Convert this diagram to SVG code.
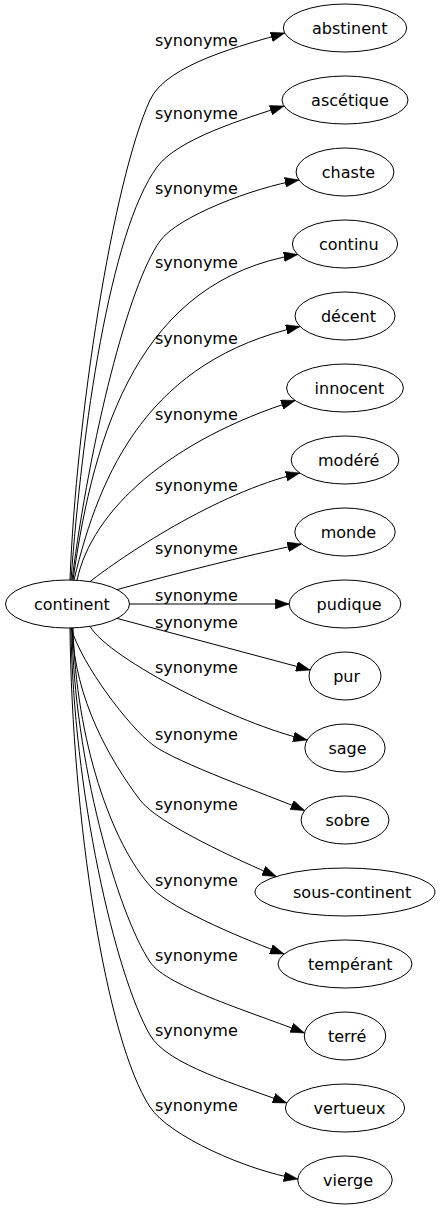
<svg xmlns="http://www.w3.org/2000/svg" width="440" height="1211" viewBox="0 0 440 1211">
<style>
  text { font-family: "DejaVu Sans", Verdana, sans-serif; font-size: 16px; fill: #000; }
  .node ellipse { fill: none; stroke: #000; stroke-width: 1; }
  .edge path { fill: none; stroke: #000; stroke-width: 1; marker-end: url(#arr); }
</style>
<defs>
  <marker id="arr" markerUnits="userSpaceOnUse" markerWidth="14" markerHeight="10" viewBox="0 0 13.3 9.4" refX="13.3" refY="4.7" orient="auto">
    <path d="M0,0 L13.3,4.7 L0,9.4 z" fill="#000" stroke="#000" stroke-width="0.5"/>
  </marker>
</defs>
<rect width="440" height="1211" fill="#fff"/>
<g id="edges">
  <g class="edge" id="e1"><path d="M70,580 C76,420 112.6,181.9 150,100 C166.6,63.6 245.7,44.6 284.7,33"/><text x="155" y="46">synonyme</text></g>
  <g class="edge" id="e2"><path d="M71,580 C82,430 109.8,231.6 157,167 C177.7,138.8 245.5,118.4 284,106"/><text x="155" y="119">synonyme</text></g>
  <g class="edge" id="e3"><path d="M72,580 C90,440 128,285.8 160,241 C177.4,216.6 253.2,187.7 298.9,180"/><text x="155" y="194">synonyme</text></g>
  <g class="edge" id="e4"><path d="M73,580 C94,430 140,280 297.7,254.5"/><text x="155" y="268">synonyme</text></g>
  <g class="edge" id="e5"><path d="M74,580 C100,470 150,360 300,326.5"/><text x="155" y="344">synonyme</text></g>
  <g class="edge" id="e6"><path d="M77,580.3 C92,510 170,440 295.1,400.5"/><text x="155" y="420">synonyme</text></g>
  <g class="edge" id="e7"><path d="M90,581.6 C120,558 215,493 299.8,473"/><text x="155" y="491">synonyme</text></g>
  <g class="edge" id="e8"><path d="M117,589.6 C178,573 240,557 301.5,544"/><text x="155" y="554">synonyme</text></g>
  <g class="edge" id="e9"><path d="M129.5,604 L289.2,604"/><text x="155" y="601">synonyme</text></g>
  <g class="edge" id="e10"><path d="M117,618.4 L310.1,670"/><text x="155" y="628">synonyme</text></g>
  <g class="edge" id="e11"><path d="M90,626.4 C110,660 240,725 307.2,740"/><text x="155" y="673">synonyme</text></g>
  <g class="edge" id="e12"><path d="M71,628 C82,665 129,727 153,745 C177,763 267.9,794.9 304.7,810.5"/><text x="155" y="740">synonyme</text></g>
  <g class="edge" id="e13"><path d="M72,628 C75,700 110,760 140,800 C158,824 239.4,860.4 276.3,876.5"/><text x="155" y="810">synonyme</text></g>
  <g class="edge" id="e14"><path d="M73,628 C76,740 111.2,844 152,888 C172.4,910 251,942 284.1,954"/><text x="155" y="886">synonyme</text></g>
  <g class="edge" id="e15"><path d="M72,628 C74,760 117,912 150,962 C166.5,987 257,1013.8 304.5,1033"/><text x="155" y="961">synonyme</text></g>
  <g class="edge" id="e16"><path d="M71,628 C73,790 115,974.4 150,1035 C167.5,1065.3 239.5,1085 286.7,1103"/><text x="155" y="1036">synonyme</text></g>
  <g class="edge" id="e17"><path d="M70,628 C72,820 106,1040 150,1107 C169,1136 247,1170.5 297.8,1179"/><text x="155" y="1111">synonyme</text></g>
</g>
<g class="node" id="continent"><ellipse cx="67.5" cy="604" rx="62" ry="24"/><text x="34" y="610">continent</text></g>
<g class="node" id="abstinent"><ellipse cx="345" cy="28" rx="61.7" ry="24"/><text x="312" y="34">abstinent</text></g>
<g class="node" id="ascetique"><ellipse cx="345" cy="100" rx="63" ry="24"/><text x="311.1" y="106">ascétique</text></g>
<g class="node" id="chaste"><ellipse cx="345" cy="172" rx="48.9" ry="24"/><text x="321.8" y="178">chaste</text></g>
<g class="node" id="continu"><ellipse cx="345" cy="244" rx="52.6" ry="24"/><text x="318.9" y="250">continu</text></g>
<g class="node" id="decent"><ellipse cx="345" cy="316" rx="50" ry="24"/><text x="320.9" y="322">décent</text></g>
<g class="node" id="innocent"><ellipse cx="345" cy="388" rx="58.4" ry="24"/><text x="314.6" y="394">innocent</text></g>
<g class="node" id="modere"><ellipse cx="345" cy="460" rx="53.8" ry="24"/><text x="318" y="466">modéré</text></g>
<g class="node" id="monde"><ellipse cx="345" cy="532" rx="50.2" ry="24"/><text x="320.7" y="538">monde</text></g>
<g class="node" id="pudique"><ellipse cx="345" cy="604" rx="55.8" ry="24"/><text x="316.6" y="610">pudique</text></g>
<g class="node" id="pur"><ellipse cx="345" cy="676" rx="36" ry="24"/><text x="333.2" y="682">pur</text></g>
<g class="node" id="sage"><ellipse cx="345" cy="748" rx="40.1" ry="24"/><text x="328.4" y="754">sage</text></g>
<g class="node" id="sobre"><ellipse cx="345" cy="820" rx="43.9" ry="24"/><text x="325.5" y="826">sobre</text></g>
<g class="node" id="sous-continent"><ellipse cx="345" cy="892" rx="90" ry="24"/><text x="293" y="898">sous-continent</text></g>
<g class="node" id="temperant"><ellipse cx="345" cy="964" rx="67" ry="24"/><text x="308.1" y="970">tempérant</text></g>
<g class="node" id="terre"><ellipse cx="345" cy="1036" rx="40.7" ry="24"/><text x="327.9" y="1042">terré</text></g>
<g class="node" id="vertueux"><ellipse cx="345" cy="1108" rx="59.6" ry="24"/><text x="313.6" y="1114">vertueux</text></g>
<g class="node" id="vierge"><ellipse cx="345" cy="1180" rx="47.2" ry="24"/><text x="323" y="1186">vierge</text></g>
</svg>
